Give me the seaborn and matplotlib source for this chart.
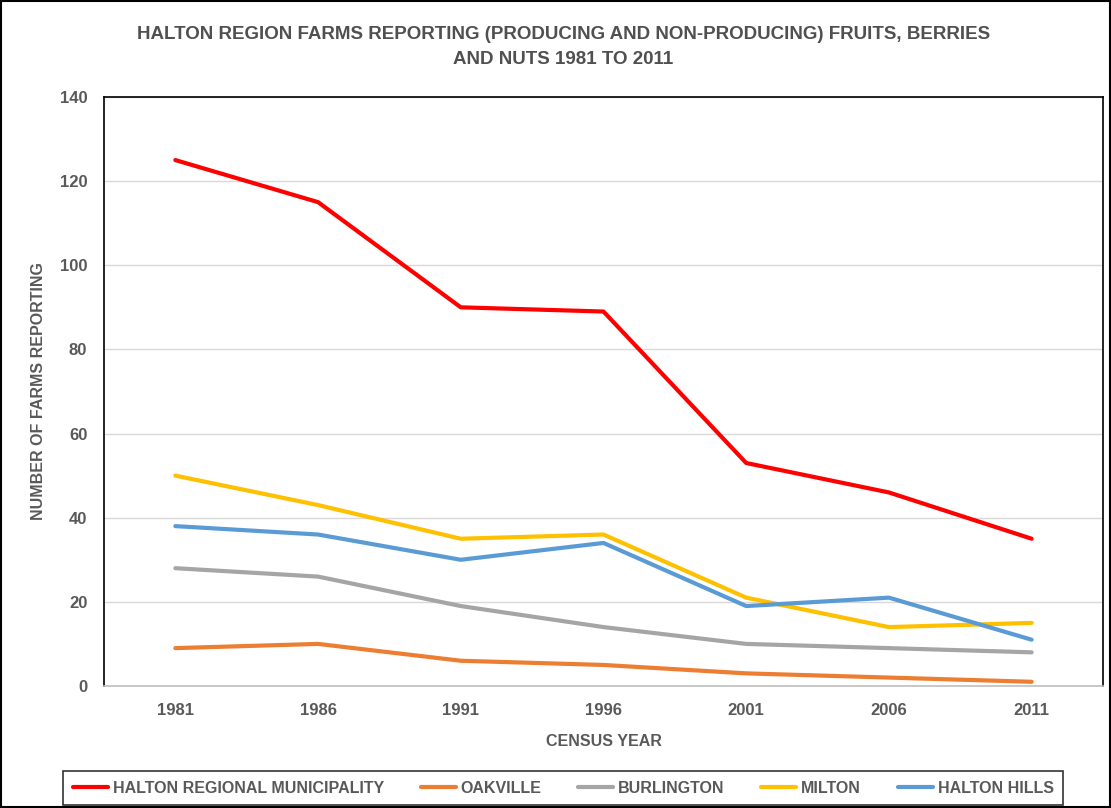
import pandas as pd
import matplotlib.pyplot as plt
import seaborn as sns

plt.switch_backend('Agg')

years = ['1981', '1986', '1991', '1996', '2001', '2006', '2011']
series_names = ['HALTON REGIONAL MUNICIPALITY', 'OAKVILLE', 'BURLINGTON', 'MILTON', 'HALTON HILLS']
halton_region = [125, 115, 90, 89, 53, 46, 35]
oakville = [9, 10, 6, 5, 3, 2, 1]
burlington = [28, 26, 19, 14, 10, 9, 8]
milton = [50, 43, 35, 36, 21, 14, 15]
halton_hills = [38, 36, 30, 34, 19, 21, 11]
colors = ['#ff0000', '#ed7d31', '#a5a5a5', '#ffc000', '#5b9bd5']

values = [halton_region, oakville, burlington, milton, halton_hills]
rows = []
for name, vals in zip(series_names, values):
    for i, v in enumerate(vals):
        rows.append({'Year': i, 'Area': name, 'Farms': v})
df = pd.DataFrame(rows)

sns.set_theme(style="white")
plt.rcParams['font.family'] = ['Liberation Sans', 'DejaVu Sans']
text_color = '#595959'

fig = plt.figure(figsize=(11.11, 8.08), dpi=100)
ax = fig.add_axes([0.0936, 0.151, 0.8992, 0.729])

sns.lineplot(data=df, x='Year', y='Farms', hue='Area', palette=colors,
             hue_order=series_names, linewidth=3, ax=ax, legend=False)

ax.set_xlim(-0.5, 6.5)
ax.set_ylim(0, 140)
ax.set_xticks(range(len(years)))
ax.set_xticklabels(years)
ax.set_yticks(range(0, 141, 20))
ax.grid(axis='y', color='#d9d9d9', linewidth=1)
ax.grid(axis='x', visible=False)
ax.tick_params(axis='both', length=0, labelsize=12, labelcolor=text_color, pad=12)
for lbl in ax.get_xticklabels() + ax.get_yticklabels():
    lbl.set_fontweight('bold')

for side in ['top', 'right', 'left']:
    ax.spines[side].set_color('black')
    ax.spines[side].set_linewidth(1.2)
ax.spines['bottom'].set_color('#bfbfbf')
ax.spines['bottom'].set_linewidth(1.2)

ax.set_xlabel('CENSUS YEAR', fontsize=11.5, fontweight='bold', color=text_color, labelpad=12)
ax.set_ylabel('NUMBER OF FARMS REPORTING', fontsize=11.5, fontweight='bold', color=text_color, labelpad=10)

fig.text(0.507, 0.942, 'HALTON REGION FARMS REPORTING (PRODUCING AND NON-PRODUCING) FRUITS, BERRIES\nAND NUTS 1981 TO 2011',
         ha='center', va='center', fontsize=13.5, fontweight='bold', color='#505050', linespacing=1.6)

handles = [plt.Line2D([0], [0], color=c, linewidth=3) for c in colors]
leg = fig.legend(handles, series_names, loc='center', bbox_to_anchor=(0.507, 0.0245),
                 ncol=5, frameon=True, fancybox=False, handlelength=2.2, handletextpad=0.3,
                 columnspacing=2.3, borderpad=0.6, borderaxespad=0.0,
                 prop={'weight': 'bold', 'size': 11.5})
leg.get_frame().set_edgecolor('black')
leg.get_frame().set_linewidth(1.2)
for t in leg.get_texts():
    t.set_color(text_color)

border = plt.Rectangle((0.001, 0.001), 0.998, 0.998, transform=fig.transFigure,
                       fill=False, edgecolor='black', linewidth=1.5)
fig.patches.append(border)

fig.savefig('out.png', dpi=100)
